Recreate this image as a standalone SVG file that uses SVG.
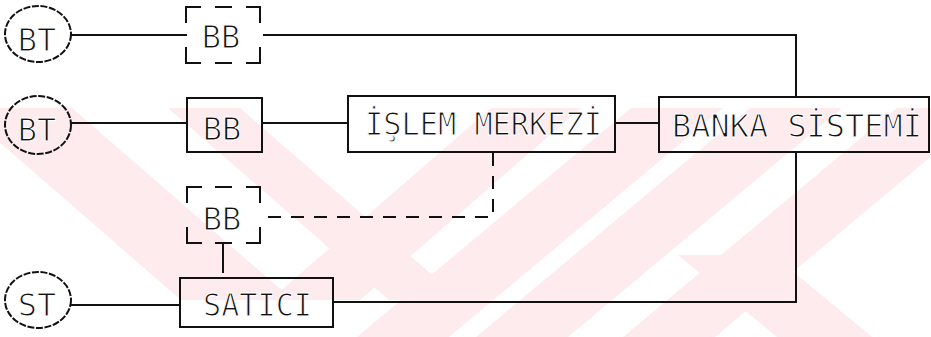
<svg xmlns="http://www.w3.org/2000/svg" width="931" height="337" viewBox="0 0 931 337">
  <style>
    .ln { fill: none; stroke: #111; stroke-width: 2; stroke-linecap: square; }
    .dash { fill: none; stroke: #111; stroke-width: 2; stroke-dasharray: 13 10; }
    .box { fill: none; stroke: #111; stroke-width: 2; }
    .ring { fill: none; stroke: #111; stroke-width: 2; stroke-dasharray: 7 1.6; }
    .lbl { font-family: "DejaVu Sans Mono", "Liberation Mono", monospace; font-size: 32px; fill: #111; stroke: #fff; stroke-width: 1.1; }
    .wm { fill: #fdebee; }
  </style>

  <rect width="931" height="337" fill="#ffffff"/>

  <!-- faint diagonal background stripes -->
  <g id="backdrop">
    <polygon class="wm" points="-40,108 72,108 293,300 181,300"/>
    <polygon class="wm" points="168,108 240,108 461,300 389,300"/>
    <polygon class="wm" points="491,108 581,108 360,300 270,300"/>
    <polygon class="wm" points="631,108 723,108 449,337 357,337"/>
    <polygon class="wm" points="750,108 842,108 568,337 476,337"/>
    <polygon class="wm" points="897,108 989,108 715,337 623,337"/>
    <polygon class="wm" points="678,255 773,255 872,337 777,337"/>
  </g>

  <!-- connectors -->
  <g id="connectors">
    <path class="ln" d="M71,35 H186"/>
    <path class="ln" d="M264,35 H796 V97"/>
    <path class="ln" d="M71,123 H187"/>
    <path class="ln" d="M262,123 H348"/>
    <path class="ln" d="M615,123 H659"/>
    <path class="dash" d="M493,153 V217 H264"/>
    <path class="ln" d="M223,245 V272"/>
    <path class="ln" d="M71,305 H180"/>
    <path class="ln" d="M333,302 H796 V152"/>
  </g>

  <!-- terminals -->
  <g id="bt1">
    <ellipse class="ring" cx="38" cy="34" rx="33" ry="28"/>
    <text class="lbl" x="37" y="51" text-anchor="middle" font-size="35">BT</text>
  </g>
  <g id="bt2">
    <ellipse class="ring" cx="38" cy="125" rx="33" ry="29"/>
    <text class="lbl" x="37" y="141" text-anchor="middle" font-size="35">BT</text>
  </g>
  <g id="st">
    <ellipse class="ring" cx="38" cy="300" rx="33" ry="28"/>
    <text class="lbl" x="37" y="316" text-anchor="middle" font-size="35">ST</text>
  </g>

  <!-- optional unit, top row (dashed outline) -->
  <g id="bb1">
    <path class="ln" d="M186,22 V7 H200 M247,7 H260 V22 M186,48 V63 H200 M247,63 H260 V48 M216,7 H231 M216,63 H231"/>
    <text class="lbl" x="221" y="48" text-anchor="middle">BB</text>
  </g>

  <g id="bb2">
    <rect class="box" x="187" y="98" width="75" height="54"/>
    <text class="lbl" x="222" y="140" text-anchor="middle">BB</text>
  </g>

  <!-- optional unit at the merchant (dashed outline) -->
  <g id="bb3">
    <path class="ln" d="M187,202 V187 H201 M247,187 H260 V202 M187,228 V243 H201 M247,243 H260 V228 M216,187 H231 M216,243 H231"/>
    <text class="lbl" x="222" y="230" text-anchor="middle">BB</text>
  </g>

  <g id="islem">
    <rect class="box" x="348" y="96" width="267" height="56"/>
    <text class="lbl" x="365" y="135" textLength="237" lengthAdjust="spacingAndGlyphs">İŞLEM MERKEZİ</text>
  </g>

  <g id="banka">
    <rect class="box" x="659" y="97" width="270" height="55"/>
    <text class="lbl" x="672" y="137" textLength="250" lengthAdjust="spacingAndGlyphs">BANKA SİSTEMİ</text>
  </g>

  <g id="satici">
    <rect class="box" x="180" y="278" width="153" height="49"/>
    <text class="lbl" x="203" y="316" textLength="109" lengthAdjust="spacingAndGlyphs">SATICI</text>
  </g>
</svg>
